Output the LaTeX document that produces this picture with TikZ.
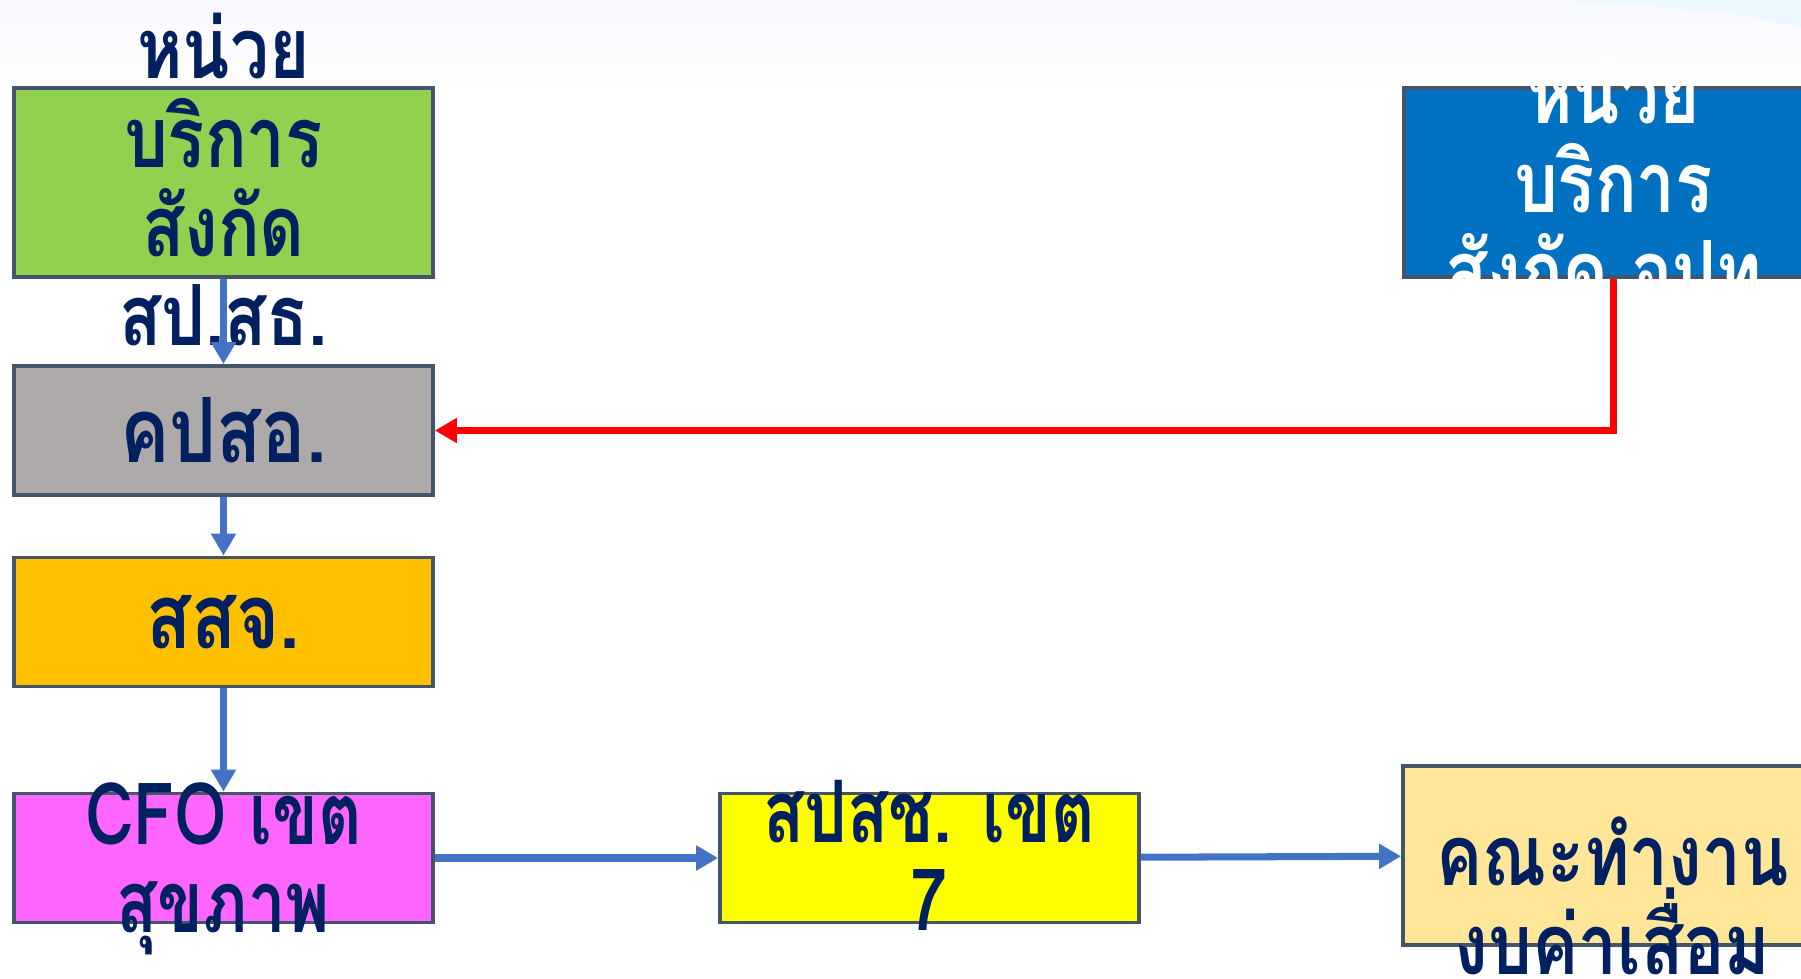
\documentclass[tikz,border=0pt]{standalone}
\usepackage{fontspec}
\newfontfamily\thaifont[Script=Thai,FakeStretch=0.82]{Loma}
\newfontfamily\thaicond[Script=Thai,FakeStretch=0.78]{Loma}
\usetikzlibrary{arrows.meta,positioning,shadings}
\definecolor{navy}{HTML}{002060}
\definecolor{frame}{HTML}{44546A}
\definecolor{flow}{HTML}{4472C4}
\definecolor{cgreen}{HTML}{92D050}
\definecolor{cgrey}{HTML}{AEAAAA}
\definecolor{corange}{HTML}{FFC000}
\definecolor{cpink}{HTML}{FF66FF}
\definecolor{cyellow}{HTML}{FFFF00}
\definecolor{ctan}{HTML}{FFE699}
\definecolor{cblue}{HTML}{0070C0}
\tikzstyle{every node}+=[inner sep=0mm,node distance=3em]
\tikzstyle{box}=[draw=frame,line width=1.1pt,minimum width=4.19cm,minimum height=1.29cm]
\tikzstyle{boxtext}=[font=\thaifont\bfseries\fontsize{24}{25.3}\selectfont,text=navy,align=center]
\tikzstyle{bigtext}=[boxtext,font=\thaifont\bfseries\fontsize{25.6}{27}\selectfont]
\tikzstyle{condtext}=[boxtext,font=\thaicond\bfseries\fontsize{24.5}{25}\selectfont]
\tikzstyle{flowline}=[draw=flow,line width=2pt,-{Triangle[length=2.2mm,width=2.4mm]}]
\tikzstyle{backline}=[draw=red,line width=2.2pt,-{Triangle[length=2.2mm,width=2.4mm]}]
\newcommand{\drawarrows}[2][\empty]{
	\foreach \a/\b in {#2}{
		\draw[#1] (\a) -- (\b);
	}
}

\begin{document}
\begin{tikzpicture}
\clip (0,0) rectangle (18.01,9.78);
\useasboundingbox (0,0) rectangle (18.01,9.78);
% faint slide background
\shade[top color=blue!3,bottom color=white] (0,8.9) rectangle (18.01,9.78);
\fill[cyan!8] (15.6,9.78) .. controls (16.8,9.72) and (17.6,9.62) .. (18.01,9.5) -- (18.01,9.78) -- cycle;

\node [box,fill=cgreen,minimum height=1.89cm,label={[boxtext,yshift=0.3mm]center:หน่วย\\บริการ\\สังกัด\\สป.สธ.}] (green) at (2.235,7.955) {};
\node [box,fill=cgrey,below of=green,node distance=2.48cm,label={[bigtext]center:คปสอ.}] (grey) {};
\node [box,fill=corange,below of=grey,node distance=1.915cm,label={[bigtext]center:สสจ.}] (orange) {};
\node [box,fill=cpink,below of=orange,node distance=2.36cm,label={[condtext,yshift=-1.1mm]center:CFO เขต\\สุขภาพ}] (pink) {};
\node [box,fill=cyellow,right of=pink,node distance=7.06cm,label={[condtext,yshift=0.3mm]center:สปสช. เขต\\7}] (yellow) {};
\node [box,fill=ctan,minimum height=1.79cm,label={[boxtext,yshift=-4mm]center:คณะทำงาน\\งบค่าเสื่อม}] (tan) at (16.125,1.225) {};
\node [box,fill=cblue,minimum height=1.89cm,right of=green,node distance=13.9cm,label={[boxtext,text=white,yshift=0.25mm]center:หน่วย\\บริการ\\สังกัด อปท.}] (blue) {};

\drawarrows[flowline]{green/grey,grey/orange,orange/pink,pink/yellow,yellow/tan}
\draw[backline] (blue.south) |- (grey.east);
\end{tikzpicture}
\end{document}
